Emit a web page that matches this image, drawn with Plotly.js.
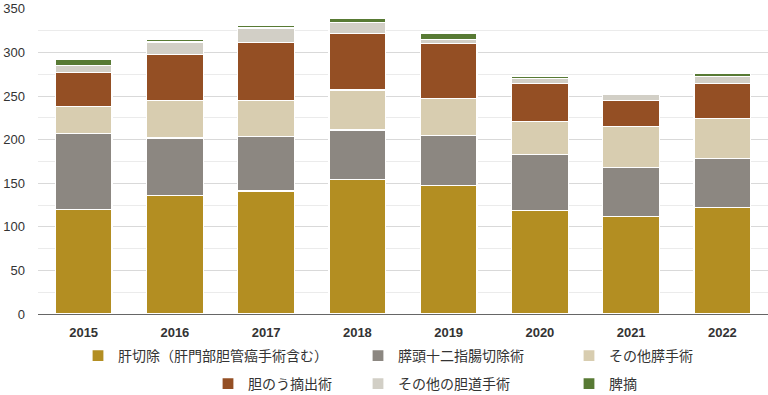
<!DOCTYPE html>
<html>
<head>
<meta charset="utf-8">
<script src="https://cdn.plot.ly/plotly-3.0.1.min.js"></script>
<style>html,body{margin:0;padding:0;background:#fff;}#chart{width:768px;height:395px;}</style>
</head>
<body>
<div id="chart"></div>
<script>
const years = ['2015','2016','2017','2018','2019','2020','2021','2022'];
const seriesNames = ['肝切除（肝門部胆管癌手術含む）','膵頭十二指腸切除術','その他膵手術','胆のう摘出術','その他の胆道手術','脾摘'];
const liver = [120, 136, 141, 154, 147, 119, 112, 122];
const pd = [87, 66, 63, 57, 58, 64, 56, 56];
const otherPancreas = [31, 43, 41, 46, 42, 38, 47, 46];
const chole = [39, 53, 66, 65, 63, 43, 30, 40];
const otherBiliary = [8, 14, 17, 12, 5, 6, 7, 8];
const spleen = [7, 3, 3, 5.5, 7, 3, 1.5, 4];
const colors = ['#B38E22','#8C8781','#D8CDB0','#944F24','#D2CFC6','#587A34'];
const allValues = [liver, pd, otherPancreas, chole, otherBiliary, spleen];

// legend positions (container px)
const legendPos = [[78,356],[358,356],[569,356],[208,384],[358,384],[569,384]];

const traces = allValues.map((v,i)=>({
  type:'bar', x: years, y: v, name: seriesNames[i],
  marker:{color: colors[i], line:{color:'#ffffff', width:1.2}},
  legend: i===0 ? 'legend' : 'legend'+(i+1),
  hoverinfo:'y+name'
}));

const layout = {
  width:768, height:395,
  margin:{l:38, r:0, t:8, b:81},
  barmode:'stack',
  bargap:0.38,
  paper_bgcolor:'#fff', plot_bgcolor:'#fff',
  font:{family:'Arial, "Liberation Sans", "Noto Sans CJK JP", sans-serif', color:'#333'},
  xaxis:{
    showgrid:false, showline:true, linecolor:'#666', linewidth:1,
    ticks:'', tickfont:{size:13, color:'#333', weight:'bold'},
    ticklabelstandoff:6
  },
  yaxis:{
    range:[0,351], tickvals:[0,50,100,150,200,250,300,350], showline:false, zeroline:false,
    gridcolor:'#d9d9d9', gridwidth:1,
    minor:{tickvals:[25,75,125,175,225,275,325], showgrid:true, gridcolor:'#ebebeb', gridwidth:1},
    tickfont:{size:13, color:'#333'}, ticklabelstandoff:12, ticklabeloverflow:'allow'
  },
  showlegend:true
};
legendPos.forEach((p,i)=>{
  layout[i===0?'legend':'legend'+(i+1)] = {
    xref:'container', yref:'container',
    x: p[0]/768, y: 1 - p[1]/395, xanchor:'left', yanchor:'middle',
    orientation:'h', bgcolor:'rgba(0,0,0,0)',
    font:{size:14, color:'#333', family:'"Noto Sans CJK JP", sans-serif'}
  };
});

Plotly.newPlot('chart', traces, layout, {displayModeBar:false, staticPlot:true});
</script>
</body>
</html>
